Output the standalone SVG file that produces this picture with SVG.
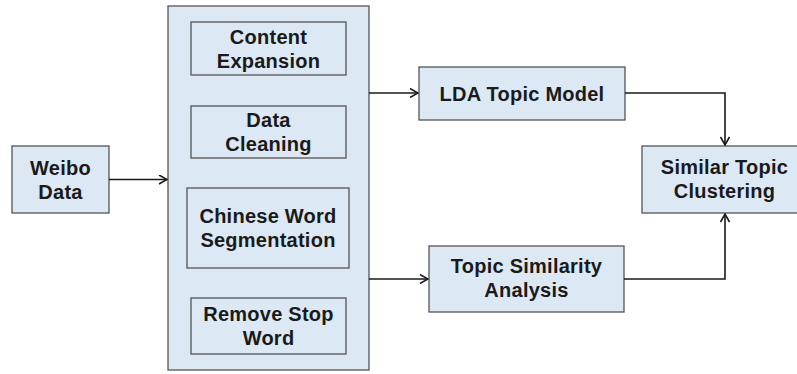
<svg xmlns="http://www.w3.org/2000/svg" width="797" height="374" viewBox="0 0 797 374">
  <defs>
    <marker id="arrow" viewBox="0 0 10 10" refX="9" refY="5" markerWidth="10" markerHeight="10" markerUnits="userSpaceOnUse" orient="auto">
      <path d="M1,0.5 L9,5 L1,9.5" fill="none" stroke="#1a1a1a" stroke-width="1.6"/>
    </marker>
    <style>
      .box { fill: #dde8f5; stroke: #555; stroke-width: 1.3; }
      .label { font-family: "Liberation Sans", Arial, sans-serif; font-weight: bold; font-size: 20px; letter-spacing: 0.25px; fill: #1a1a1a; text-anchor: middle; }
      .edge { fill: none; stroke: #1a1a1a; stroke-width: 1.6; marker-end: url(#arrow); }
    </style>
  </defs>
  <rect width="797" height="374" fill="#ffffff"/>

  <g id="weibo-data">
    <rect class="box" x="12" y="146" width="97" height="67"/>
    <text class="label" x="60.5" y="174.5">Weibo</text>
    <text class="label" x="60.5" y="198.5">Data</text>
  </g>

  <g id="preprocessing">
    <rect class="box" x="168" y="6" width="201" height="364"/>
  </g>

  <g id="content-expansion">
    <rect class="box" x="191" y="22" width="155" height="53"/>
    <text class="label" x="268.5" y="43.5">Content</text>
    <text class="label" x="268.5" y="67.5">Expansion</text>
  </g>

  <g id="data-cleaning">
    <rect class="box" x="191" y="106" width="155" height="52"/>
    <text class="label" x="268.5" y="127">Data</text>
    <text class="label" x="268.5" y="151">Cleaning</text>
  </g>

  <g id="word-segmentation">
    <rect class="box" x="187" y="188" width="162" height="80"/>
    <text class="label" x="268" y="223">Chinese Word</text>
    <text class="label" x="268" y="247">Segmentation</text>
  </g>

  <g id="remove-stop-word">
    <rect class="box" x="191" y="298" width="155" height="56"/>
    <text class="label" x="268.5" y="321">Remove Stop</text>
    <text class="label" x="268.5" y="345">Word</text>
  </g>

  <g id="lda-topic-model">
    <rect class="box" x="419" y="67" width="206" height="53"/>
    <text class="label" x="522" y="101">LDA Topic Model</text>
  </g>

  <g id="topic-similarity">
    <rect class="box" x="429" y="246" width="195" height="66"/>
    <text class="label" x="526.5" y="273">Topic Similarity</text>
    <text class="label" x="526.5" y="297">Analysis</text>
  </g>

  <g id="topic-clustering">
    <rect class="box" x="642" y="146" width="170" height="67"/>
    <text class="label" x="724.5" y="174">Similar Topic</text>
    <text class="label" x="724.5" y="198">Clustering</text>
  </g>

  <g id="connectors">
    <path class="edge" d="M109,179.5 H167"/>
    <path class="edge" d="M369,93 H418"/>
    <path class="edge" d="M369,279 H428"/>
    <path class="edge" d="M625,93 H725 V145"/>
    <path class="edge" d="M624,279 H725 V214"/>
  </g>
</svg>
